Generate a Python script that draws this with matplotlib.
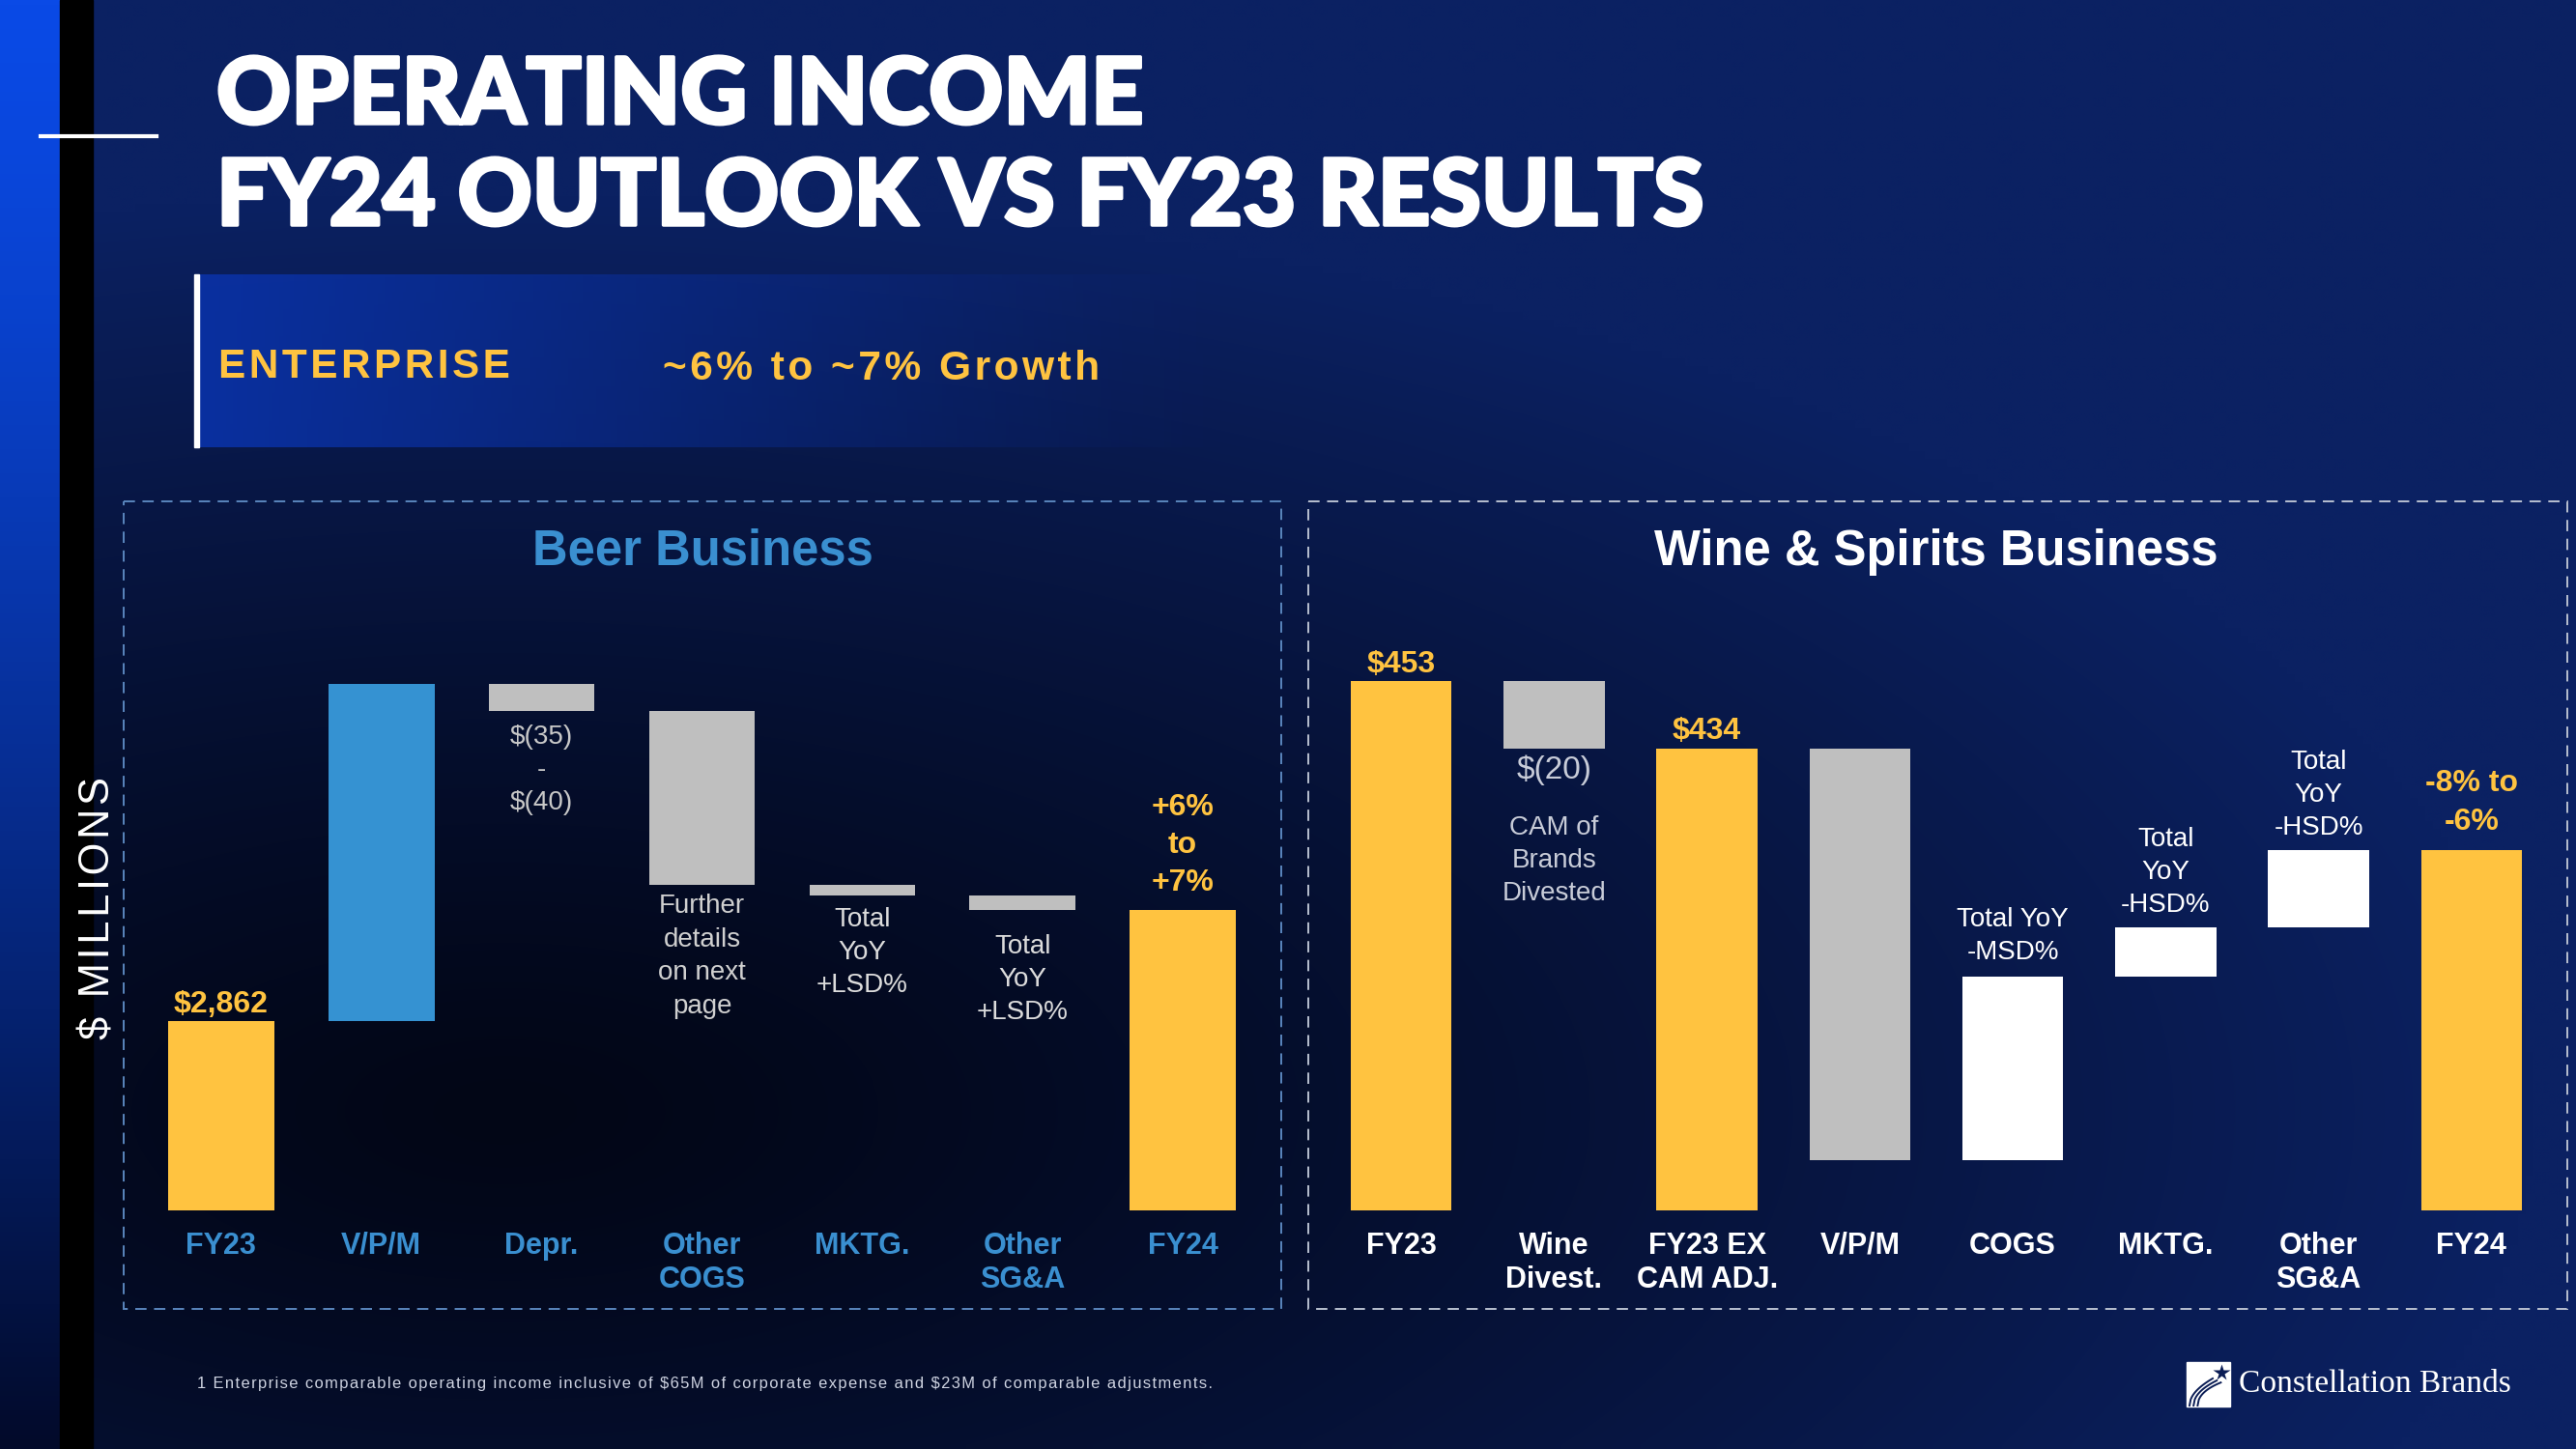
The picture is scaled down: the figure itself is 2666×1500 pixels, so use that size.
import numpy as np
import matplotlib
matplotlib.use('Agg')
import matplotlib.pyplot as plt
import matplotlib.patheffects as pe
from matplotlib.patches import Rectangle

W, H = 2666, 1500

### chart data (bar heights as drawn on the slide, the chart is not to scale)
beer_cats = ['FY23', 'V/P/M', 'Depr.', 'Other\nCOGS', 'MKTG.', 'Other\nSG&A', 'FY24']
beer_steps = [196, 349, -28, -180, -11, -15, 'total']
beer_colors = ['#FFC340', '#3592D2', '#BFBFBF', '#BFBFBF', '#BFBFBF', '#BFBFBF', '#FFC340']
beer_values = ['$2,862', '', '', '', '', '', '+6%\nto\n+7%']
beer_notes = ['', '', '$(35)\n-\n$(40)', 'Further\ndetails\non next\npage',
              'Total\nYoY\n+LSD%', 'Total\nYoY\n+LSD%', '']

wine_cats = ['FY23', 'Wine\nDivest.', 'FY23 EX\nCAM ADJ.', 'V/P/M', 'COGS', 'MKTG.', 'Other\nSG&A', 'FY24']
wine_steps = [548, -70, 'total', -426, 190, 51, 80, 'total']
wine_colors = ['#FFC340', '#BFBFBF', '#FFC340', '#BFBFBF', 'white', 'white', 'white', '#FFC340']
wine_values = ['$453', '', '$434', '', '', '', '', '-8% to\n-6%']
wine_notes = ['', 'CAM of\nBrands\nDivested', '', '', 'Total YoY\n-MSD%',
              'Total\nYoY\n-HSD%', 'Total\nYoY\n-HSD%', '']

footnote = ('1 Enterprise comparable operating income inclusive of $65M of corporate '
            'expense and $23M of comparable adjustments.')

YELLOW = '#FFC340'
SANS = ['Liberation Sans', 'DejaVu Sans']
HAIR = '\u200a'


def spaced(s):
    # poor man's letter spacing
    return HAIR.join(s)


fig = plt.figure(figsize=(W / 100, H / 100), dpi=100)

### background, in pixel coordinates
bg = fig.add_axes([0, 0, 1, 1], zorder=-10)
yy, xx = np.mgrid[0:H:8, 0:W:8]
d = np.clip(np.sqrt(((xx - 520) / 2100.0) ** 2 + ((yy - 1150) / 950.0) ** 2), 0, 1)
navy = np.array([0x0b, 0x21, 0x62]) / 255
dark = np.array([0x02, 0x06, 0x16]) / 255
img = dark + (navy - dark) * (d[..., None] ** 1.3)
bg.imshow(img, extent=[0, W, H, 0], aspect='auto', interpolation='bilinear')

s = np.linspace(0, 1, 300)[:, None, None] ** 1.3
strip = np.array([0x0a, 0x4a, 0xe6]) / 255 * (1 - s) + np.array([0x02, 0x0a, 0x2a]) / 255 * s
bg.imshow(strip, extent=[0, 62, H, 0], aspect='auto')
bg.add_patch(Rectangle((62, 0), 34, H, color='black'))

# enterprise banner
band = np.zeros((1, 300, 4))
band[..., :3] = np.array([0x0a, 0x30, 0xa0]) / 255
band[..., 3] = (1 - np.linspace(0, 1, 300)) ** 1.2
bg.imshow(band, extent=[205, 1300, 463, 284], aspect='auto')
bg.add_patch(Rectangle((201, 284), 5, 179, color='white'))
bg.plot([42, 162], [141, 141], color='white', lw=3)

# dashed panels
bg.add_patch(Rectangle((128, 519), 1198, 836, fill=False, ec='#5a86bd', lw=1.4, ls=(0, (6, 4))))
bg.add_patch(Rectangle((1354, 519), 1303, 836, fill=False, ec='#b8c0d0', lw=1.4, ls=(0, (6, 4))))

bg.set_xlim(0, W)
bg.set_ylim(H, 0)
bg.axis('off')

renderer = fig.canvas.get_renderer()


def fit(txt, size_px, along='width'):
    ext = txt.get_window_extent(renderer)
    cur = ext.width if along == 'width' else ext.height
    txt.set_fontsize(txt.get_fontsize() * size_px / cur)


### titles
heavy = [pe.withStroke(linewidth=2.5, foreground='white')]
t2 = bg.text(224, 233, 'FY24 OUTLOOK VS FY23 RESULTS', color='white', fontsize=72,
             family=['Lato', 'DejaVu Sans'], fontweight='black', va='baseline')
fit(t2, 1540)
t2.set_path_effects(heavy)
bg.text(224, 128, 'OPERATING INCOME', color='white', fontsize=t2.get_fontsize(),
        family=['Lato', 'DejaVu Sans'], fontweight='black', va='baseline', path_effects=heavy)

e1 = bg.text(226, 380, spaced('ENTERPRISE'), color=YELLOW, fontsize=32, family=SANS,
             fontweight='bold', va='center')
fit(e1, 302)
e2 = bg.text(686, 382, spaced('~6% to ~7% Growth'), color=YELLOW, fontsize=32, family=SANS,
             fontweight='bold', va='center')
fit(e2, 455)

bg.text(727, 571, 'Beer Business', color='#3a8fd0', fontsize=36.5, family=SANS,
        fontweight='bold', ha='center', va='center')
bg.text(2004, 571, 'Wine & Spirits Business', color='white', fontsize=36.5, family=SANS,
        fontweight='bold', ha='center', va='center')

ym = bg.text(102, 940, spaced('$ MILLIONS'), color='white', fontsize=32, family=SANS,
             rotation=90, ha='center', va='center', parse_math=False)
fit(ym, 273, along='height')

fn = bg.text(204, 1433, spaced(footnote), color='#cfd4e2', fontsize=11, family=SANS,
             va='center', parse_math=False)
fit(fn, 1043)

# logo
bg.add_patch(Rectangle((2263, 1410), 45, 46, color='white'))
bg.plot([2299], [1421], marker='*', ms=13, color='#0b1d55', mec='none')
for off in (0, 7, 14):
    u = np.linspace(0, 1, 20)
    bg.plot(2266 + off * 0.6 + 24 * u, 1455 - 28 * np.sqrt(u) + off * 0.3 * u,
            color='#0b1d55', lw=1.4)
lg = bg.text(2317, 1433, 'Constellation Brands', color='white', fontsize=24,
             family=['Liberation Serif', 'DejaVu Serif'], va='center')
fit(lg, 283)


### waterfall panels
def waterfall(steps):
    bottoms, heights = [], []
    run = 0
    for i, st in enumerate(steps):
        if i == 0:
            bottoms.append(0)
            heights.append(st)
            run = st
        elif st == 'total':
            bottoms.append(0)
            heights.append(run)
        else:
            bottoms.append(min(run, run + st))
            heights.append(abs(st))
            run += st
    return bottoms, heights


def draw_panel(rect, cats, steps, colors, values, notes, cat_color, note_colors,
               value_y, note_y):
    ax = fig.add_axes(rect)
    x = np.arange(len(cats))
    bottoms, heights = waterfall(steps)
    ax.bar(x, heights, bottom=bottoms, width=0.66, color=colors, edgecolor='none')
    for i, c in enumerate(cats):
        ax.text(i, -22, c, ha='center', va='top', fontsize=22, fontweight='bold',
                color=cat_color, family=SANS, linespacing=1.2)
    for i, v in enumerate(values):
        if v:
            ax.text(i, value_y[i], v, ha='center', va='center', fontsize=23,
                    fontweight='bold', color=YELLOW, family=SANS, linespacing=1.4,
                    parse_math=False)
    for i, n in enumerate(notes):
        if n:
            ax.text(i, note_y[i], n, ha='center', va='center', fontsize=20,
                    color=note_colors[i], family=SANS, linespacing=1.42,
                    parse_math=False)
    ax.set_xlim(-0.5, len(cats) - 0.5)
    ax.set_ylim(0, 600)
    ax.axis('off')
    return ax


beer_ax = draw_panel([146 / W, 1 - 1253 / H, (1307 - 146) / W, 600 / H],
                     beer_cats, beer_steps, beer_colors, beer_values, beer_notes,
                     '#3a8fd0', ['', '', '#c8c8c8', '#d0d0d0', '#dcdcdc', '#dcdcdc', ''],
                     [213, 0, 0, 0, 0, 0, 378], [0, 0, 456, 263, 267, 239, 0])

wine_ax = draw_panel([1371 / W, 1 - 1253 / H, (2637 - 1371) / W, 600 / H],
                     wine_cats, wine_steps, wine_colors, wine_values, wine_notes,
                     'white', ['', '#c8ccd8', '', '', 'white', 'white', 'white', ''],
                     [565, 0, 496, 0, 0, 0, 0, 422], [0, 362, 0, 0, 284, 350, 430, 0])
wine_ax.text(1, 456, '$(20)', ha='center', va='center', fontsize=24, color='#c8ccd8',
             family=SANS)

fig.savefig('out.png', dpi=100)
